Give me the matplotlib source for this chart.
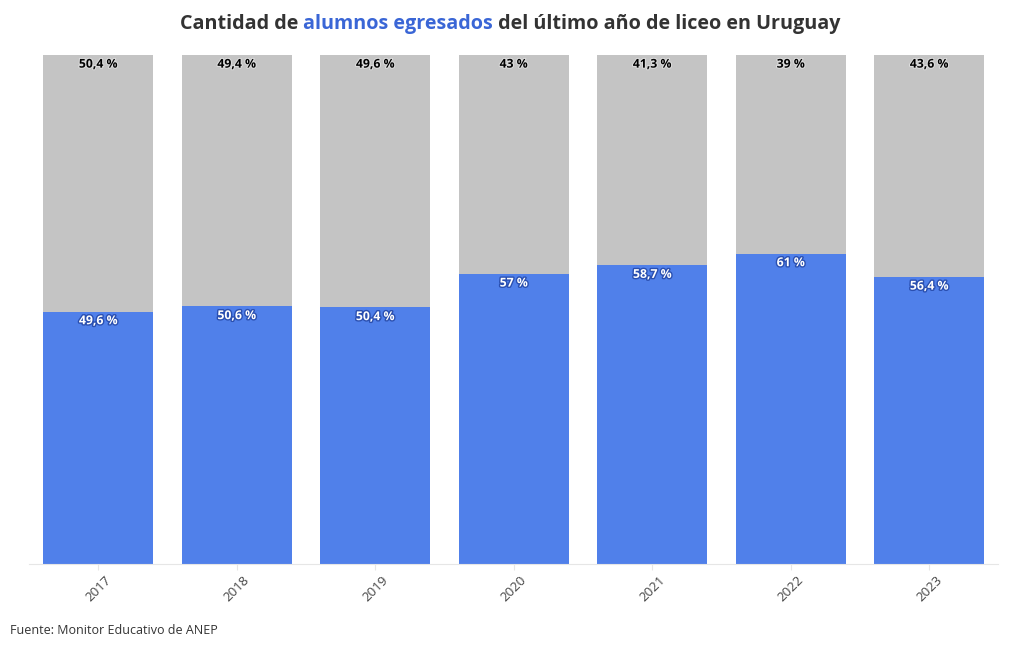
import matplotlib
matplotlib.use("Agg")
import matplotlib.pyplot as plt
import matplotlib.patheffects as pe
import numpy as np

plt.rcParams['font.family'] = ['Open Sans', 'DejaVu Sans']

years = ['2017', '2018', '2019', '2020', '2021', '2022', '2023']
egresados = [49.6, 50.6, 50.4, 57, 58.7, 61, 56.4]
no_egresados = [50.4, 49.4, 49.6, 43, 41.3, 39, 43.6]

blue = '#5080EA'
gray = '#C4C4C4'


def fmt(v):
    s = ('%g' % v).replace('.', ',')
    return s + ' %'


fig = plt.figure(figsize=(10.2, 6.5), dpi=100)
ax = fig.add_axes([29/1020, 86/650, (998.5-29)/1020, (564-55)/650])

x = np.arange(len(years))
ax.bar(x, egresados, width=0.795, color=blue, edgecolor='none')
ax.bar(x, no_egresados, width=0.795, bottom=egresados, color=gray, edgecolor='none')

for i in range(len(years)):
    ax.text(x[i], egresados[i] - 1.8, fmt(egresados[i]), ha='center', va='center',
            fontsize=8.8, fontweight='bold', color='white',
            path_effects=[pe.withStroke(linewidth=2, foreground='#2a4fb0')])
    ax.text(x[i], 98.2, fmt(no_egresados[i]), ha='center', va='center',
            fontsize=8.8, fontweight='bold', color='black',
            path_effects=[pe.withStroke(linewidth=1.5, foreground='#dddddd')])

ax.set_xlim(-0.5, len(years) - 0.5)
ax.set_ylim(0, 100)
ax.set_yticks([])
ax.set_xticks(x)
ax.set_xticklabels(years, rotation=45, fontsize=9.5, color='#444444')
ax.tick_params(axis='x', length=4, color='#e6e6e6', pad=3)
for s in ['top', 'right', 'left']:
    ax.spines[s].set_visible(False)
ax.spines['bottom'].set_color('#e6e6e6')
ax.spines['bottom'].set_linewidth(0.8)

# title with coloured segment
parts = [('Cantidad de ', '#333333'), ('alumnos egresados', '#3a66d6'),
         (' del último año de liceo en Uruguay', '#333333')]
fig.canvas.draw()
renderer = fig.canvas.get_renderer()
texts = []
widths = []
for s, c in parts:
    t = fig.text(0, 0, s, fontsize=14.2, fontweight='bold', color=c)
    texts.append(t)
    widths.append(t.get_window_extent(renderer).width)
total = sum(widths)
x0 = 510 - total / 2
for t, w in zip(texts, widths):
    t.set_position((x0 / 1020, 1 - 24 / 650))
    t.set_va('center')
    x0 += w

fig.text(10/1020, 1 - 631/650, 'Fuente: Monitor Educativo de ANEP', fontsize=9,
         color='#333333', va='center')

fig.savefig('out.png', dpi=100)
